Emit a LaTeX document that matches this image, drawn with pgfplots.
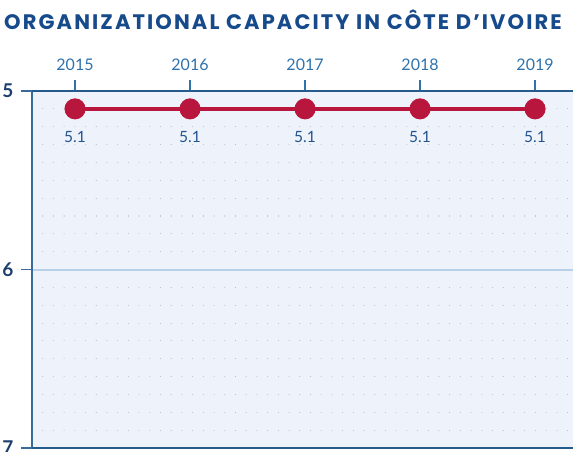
\documentclass[border=0pt]{standalone}
\usepackage{fontspec}
\setmainfont{Lato}
\newfontfamily\titlefont[LetterSpace=10]{Poppins}
\usepackage{pgfplots}
\pgfplotsset{compat=1.18}
\definecolor{titleblue}{HTML}{174A8B}
\definecolor{yearblue}{HTML}{2F72AC}
\definecolor{navy}{HTML}{1D3F6E}
\definecolor{linered}{HTML}{B8163C}
\definecolor{bgblue}{HTML}{EEF3FB}
\definecolor{gridblue}{HTML}{B8D0E8}
\definecolor{axisblue}{HTML}{3A6A9A}
\definecolor{lblblue}{HTML}{24548E}
\begin{document}
\begin{tikzpicture}
\path[use as bounding box] (0,0) rectangle (573pt,-451pt);
\node[anchor=base west, inner sep=0pt, text=titleblue, font=\titlefont\fontsize{21}{22}\selectfont\bfseries] at (4pt,-29pt) {ORGANIZATIONAL CAPACITY IN CÔTE D’IVOIRE};
\begin{axis}[
  at={(32pt,-448pt)}, anchor=south west,
  scale only axis, width=541pt, height=357pt,
  xmin=2014.626, xmax=2019.33,
  ymin=5, ymax=7, y dir=reverse,
  xtick={2015,2016,2017,2018,2019},
  xticklabels={2015,2016,2017,2018,2019},
  ytick={5,6,7},
  yticklabels={5,6,7},
  xtick pos=upper, xticklabel pos=upper,
  ytick pos=left,
  tick align=outside,
  major tick length=11pt,
  minor tick length=0pt,
  axis line style={draw=none},
  xtick style={draw=yearblue, line width=1.3pt},
  ytick style={draw=axisblue, line width=1.6pt},
  xticklabel style={text=yearblue, font=\fontsize{16}{18}\selectfont, yshift=6pt},
  yticklabel style={text=navy, font=\fontsize{19}{22}\selectfont\bfseries, xshift=-4pt},
  /pgf/number format/assume math mode=true,
  axis background/.style={fill=bgblue},
  ymajorgrids, yminorgrids, minor y tick num=9,
  major grid style={draw=gridblue, line width=2pt},
  minor grid style={draw=black!25, line width=1.1pt, dash pattern=on 0.01pt off 10.7pt, line cap=round},
  clip=false,
]
\addplot[linered, line width=4pt, mark=*, mark size=8.5pt, mark options={fill=linered, draw=linered},
  nodes near coords, point meta=explicit symbolic,
  every node near coord/.style={anchor=north, yshift=-17pt, text=lblblue, font=\fontsize{15.5}{18}\selectfont}]
  coordinates {(2015,5.1)[5.1] (2016,5.1)[5.1] (2017,5.1)[5.1] (2018,5.1)[5.1] (2019,5.1)[5.1]};
\draw[axisblue, line width=2pt] (axis cs:2014.626,5) -- (axis cs:2014.626,7);
\draw[yearblue!80!black, line width=1.5pt] (axis cs:2014.626,5) -- (axis cs:2019.33,5);
\draw[yearblue!80!black, line width=1.5pt] (axis cs:2014.626,7) -- (axis cs:2019.33,7);
\end{axis}
\end{tikzpicture}
\end{document}
